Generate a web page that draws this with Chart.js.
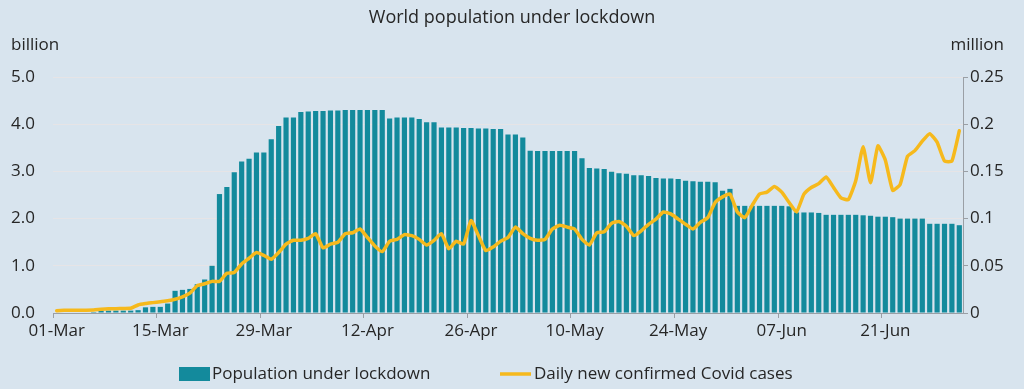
<!DOCTYPE html>
<html>
<head>
<meta charset="utf-8">
<script src="https://cdn.jsdelivr.net/npm/chart.js@4/dist/chart.umd.min.js"></script>
<style>
  html, body { margin: 0; padding: 0; background: #d8e4ee; }
  #wrap { width: 1024px; height: 389px; }
</style>
</head>
<body>
<div id="wrap"><canvas id="c" width="1024" height="389"></canvas></div>
<script>
// ---- Data ----
const chartTitle = 'World population under lockdown';
const leftUnit = 'billion';
const rightUnit = 'million';
const seriesNames = ['Population under lockdown', 'Daily new confirmed Covid cases'];
const startDate = { month: 2, day: 1 };   // 01-Mar (month index 2)
const dayCount = 123;                      // 01-Mar .. 01-Jul
const monthNames = ['Jan','Feb','Mar','Apr','May','Jun','Jul','Aug','Sep','Oct','Nov','Dec'];
const tickLabels = ['01-Mar','15-Mar','29-Mar','12-Apr','26-Apr','10-May','24-May','07-Jun','21-Jun'];

// Population under lockdown (billion)
const populationBillion = [
  0.01, 0.01, 0.01, 0.01, 0.01, 0.02, 0.05, 0.05, 0.05, 0.05,
  0.05, 0.06, 0.12, 0.13, 0.13, 0.20, 0.47, 0.49, 0.51, 0.61,
  0.71, 1.00, 2.52, 2.67, 2.98, 3.21, 3.27, 3.40, 3.40, 3.68,
  3.96, 4.14, 4.14, 4.26, 4.27, 4.28, 4.28, 4.29, 4.29, 4.30,
  4.30, 4.30, 4.30, 4.30, 4.30, 4.12, 4.14, 4.14, 4.14, 4.11,
  4.04, 4.04, 3.93, 3.93, 3.93, 3.92, 3.92, 3.91, 3.91, 3.90,
  3.90, 3.78, 3.78, 3.72, 3.44, 3.43, 3.43, 3.43, 3.43, 3.43,
  3.43, 3.28, 3.07, 3.06, 3.05, 2.99, 2.96, 2.95, 2.92, 2.92,
  2.90, 2.86, 2.85, 2.85, 2.84, 2.80, 2.79, 2.78, 2.78, 2.77,
  2.59, 2.63, 2.27, 2.27, 2.27, 2.27, 2.27, 2.27, 2.27, 2.26,
  2.13, 2.13, 2.13, 2.12, 2.08, 2.08, 2.08, 2.08, 2.08, 2.07,
  2.06, 2.04, 2.04, 2.03, 2.00, 2.00, 2.00, 2.00, 1.89, 1.89,
  1.89, 1.89, 1.86
];

// Daily new confirmed Covid cases (million)
const dailyCasesMillion = [
  0.0025, 0.0028, 0.0030, 0.0030, 0.0030, 0.0032, 0.0040, 0.0045, 0.0045, 0.0048,
  0.0050, 0.0085, 0.0100, 0.0110, 0.0120, 0.0130, 0.0145, 0.0170, 0.0210, 0.0290,
  0.0310, 0.0335, 0.0335, 0.0420, 0.0430, 0.0520, 0.0580, 0.0640, 0.0610, 0.0570,
  0.0640, 0.0730, 0.0770, 0.0770, 0.0790, 0.0840, 0.0690, 0.0730, 0.0750, 0.0840,
  0.0850, 0.0890, 0.0800, 0.0710, 0.0650, 0.0760, 0.0780, 0.0830, 0.0820, 0.0780,
  0.0720, 0.0770, 0.0840, 0.0680, 0.0760, 0.0730, 0.0980, 0.0820, 0.0660, 0.0700,
  0.0760, 0.0800, 0.0910, 0.0840, 0.0790, 0.0770, 0.0780, 0.0890, 0.0930, 0.0910,
  0.0890, 0.0780, 0.0720, 0.0850, 0.0860, 0.0950, 0.0970, 0.0920, 0.0820, 0.0870,
  0.0940, 0.0995, 0.1070, 0.1050, 0.0995, 0.0940, 0.0890, 0.0960, 0.1010, 0.1170,
  0.1230, 0.1260, 0.1070, 0.1010, 0.1140, 0.1260, 0.1280, 0.1340, 0.1280, 0.1170,
  0.1070, 0.1260, 0.1330, 0.1370, 0.1440, 0.1330, 0.1220, 0.1200, 0.1400, 0.1760,
  0.1380, 0.1770, 0.1620, 0.1300, 0.1360, 0.1660, 0.1720, 0.1820, 0.1900, 0.1810,
  0.1610, 0.1610, 0.1930
];

// ---- Categories (dates) ----
const categories = [];
{
  const d = new Date(Date.UTC(2020, startDate.month, startDate.day));
  for (let i = 0; i < dayCount; i++) {
    const dd = String(d.getUTCDate()).padStart(2, '0');
    categories.push(dd + '-' + monthNames[d.getUTCMonth()]);
    d.setUTCDate(d.getUTCDate() + 1);
  }
}

// ---- Styles ----
const BG = '#d8e4ee';
const TEAL = '#138a9c';
const GOLD = '#f6b91c';
const TEXT = '#262626';
const AXIS = '#9a9fa5';
const GRID = '#e6e4e6';
const FONT = '"Open Sans", "Noto Sans", sans-serif';

const overlay = {
  id: 'overlay',
  beforeDraw(chart) {
    const ctx = chart.ctx;
    ctx.save();
    ctx.fillStyle = BG;
    ctx.fillRect(0, 0, chart.width, chart.height);
    ctx.restore();
  },
  afterDraw(chart) {
    const ctx = chart.ctx;
    ctx.save();
    ctx.fillStyle = TEXT;
    ctx.textBaseline = 'middle';
    ctx.font = '18px ' + FONT;
    ctx.textAlign = 'center';
    ctx.fillText(chartTitle, 512, 18);
    ctx.font = '17px ' + FONT;
    ctx.textAlign = 'left';
    ctx.fillText(leftUnit, 11, 45);
    ctx.textAlign = 'right';
    ctx.fillText(rightUnit, 1004, 45);

    // legend
    const ds = chart.data.datasets;
    const barDs = ds.find(d => d.type === 'bar');
    const lineDs = ds.find(d => d.type === 'line');
    ctx.font = '17px ' + FONT;
    ctx.textAlign = 'left';
    const ly = 374;
    ctx.fillStyle = barDs.backgroundColor;
    ctx.fillRect(179, ly - 7, 31, 14);
    ctx.fillStyle = TEXT;
    ctx.fillText(barDs.label, 212, ly);
    ctx.strokeStyle = lineDs.borderColor;
    ctx.lineWidth = 3.5;
    ctx.beginPath();
    ctx.moveTo(500, ly);
    ctx.lineTo(531, ly);
    ctx.stroke();
    ctx.fillText(lineDs.label, 534, ly);
    ctx.restore();
  }
};

new Chart(document.getElementById('c'), {
  type: 'bar',
  data: {
    labels: categories,
    datasets: [
      {
        type: 'line',
        label: seriesNames[1],
        data: dailyCasesMillion,
        yAxisID: 'y2',
        borderColor: GOLD,
        backgroundColor: GOLD,
        borderWidth: 3.5,
        pointRadius: 0,
        tension: 0.15,
        borderJoinStyle: 'round',
        borderCapStyle: 'round',
        order: 0
      },
      {
        type: 'bar',
        label: seriesNames[0],
        data: populationBillion,
        yAxisID: 'y',
        backgroundColor: TEAL,
        borderWidth: 0,
        barPercentage: 0.7,
        categoryPercentage: 1.0,
        order: 1
      }
    ]
  },
  options: {
    responsive: false,
    animation: false,
    devicePixelRatio: 1,
    layout: { padding: { top: 77, left: 0, right: 0, bottom: 0 } },
    plugins: {
      legend: { display: false },
      title: { display: false },
      tooltip: { enabled: false }
    },
    scales: {
      x: {
        type: 'category',
        offset: true,
        border: { display: true, color: AXIS, width: 1 },
        grid: {
          offset: true,
          drawOnChartArea: false,
          drawTicks: true,
          tickLength: 5,
          color: (c) => (c.index % 14 === 0 && c.index < dayCount) ? AXIS : 'rgba(0,0,0,0)'
        },
        ticks: {
          autoSkip: false,
          maxRotation: 0,
          minRotation: 0,
          padding: 3,
          color: TEXT,
          font: { family: FONT, size: 17 },
          callback: function (v, i) {
            const lab = categories[i];
            return tickLabels.includes(lab) ? lab : '';
          }
        },
        afterFit(scale) { scale.height = 76; }
      },
      y: {
        position: 'left',
        min: 0, max: 5,
        border: { display: false },
        grid: { color: GRID, lineWidth: 1, drawTicks: false },
        ticks: {
          stepSize: 1,
          padding: 18,
          color: TEXT,
          font: { family: FONT, size: 17 },
          callback: (v) => v.toFixed(1)
        },
        afterFit(scale) { scale.width = 53; }
      },
      y2: {
        position: 'right',
        min: 0, max: 0.25,
        border: { display: true, color: AXIS, width: 1 },
        grid: { drawOnChartArea: false, drawTicks: true, tickLength: 5, color: AXIS },
        ticks: {
          stepSize: 0.05,
          padding: 2,
          color: TEXT,
          font: { family: FONT, size: 17 },
          callback: (v) => String(Number(v.toFixed(2)))
        },
        afterFit(scale) { scale.width = 61; }
      }
    }
  },
  plugins: [overlay]
});
</script>
</body>
</html>
